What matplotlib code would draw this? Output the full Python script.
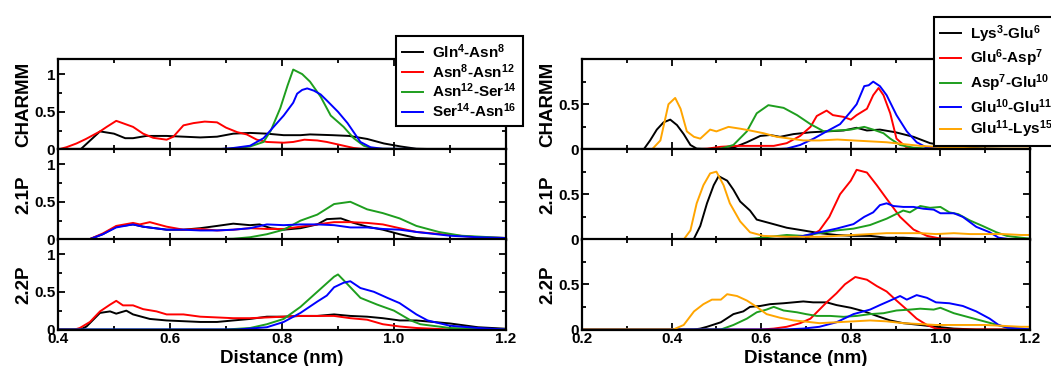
import matplotlib
matplotlib.use("Agg")
import matplotlib.pyplot as plt
from matplotlib.ticker import MultipleLocator, FixedLocator

plt.rcParams['font.family'] = ['Liberation Sans', 'DejaVu Sans']
plt.rcParams['font.weight'] = 'bold'
plt.rcParams['mathtext.fontset'] = 'custom'
plt.rcParams['mathtext.rm'] = 'Liberation Sans:bold'
plt.rcParams['mathtext.it'] = 'Liberation Sans:bold'
plt.rcParams['mathtext.bf'] = 'Liberation Sans:bold'

# ---------------- data ----------------
row_labels = ["CHARMM", "2.1P", "2.2P"]
left_names = [r"Gln$^{4}$-Asn$^{8}$", r"Asn$^{8}$-Asn$^{12}$", r"Asn$^{12}$-Ser$^{14}$", r"Ser$^{14}$-Asn$^{16}$"]
right_names = [r"Lys$^{3}$-Glu$^{6}$", r"Glu$^{6}$-Asp$^{7}$", r"Asp$^{7}$-Glu$^{10}$", r"Glu$^{10}$-Glu$^{11}$", r"Glu$^{11}$-Lys$^{15}$"]
left_colors = ["black", "#ff0000", "#1e9e1e", "#0000ff"]
right_colors = ["black", "#ff0000", "#1e9e1e", "#0000ff", "#ffa500"]

left_xticks = [0.4, 0.6, 0.8, 1.0, 1.2]
left_xticklabels = ["0.4", "0.6", "0.8", "1.0", "1.2"]
right_xticks = [0.2, 0.4, 0.6, 0.8, 1.0, 1.2]
right_xticklabels = ["0.2", "0.4", "0.6", "0.8", "1.0", "1.2"]

# Left, CHARMM
L_ch_gln_x = [0.40,0.44,0.475,0.50,0.52,0.534,0.558,0.594,0.624,0.654,0.684,0.713,0.743,0.773,0.803,0.833,0.85,0.89,0.92,0.952,0.982,1.012,1.04,1.10,1.20]
L_ch_gln_y = [0,0,0.24,0.21,0.15,0.15,0.18,0.18,0.17,0.16,0.17,0.21,0.22,0.21,0.19,0.19,0.20,0.19,0.18,0.14,0.08,0.04,0.01,0,0]
L_ch_asn8_x = [0.40,0.415,0.433,0.45,0.475,0.487,0.504,0.534,0.552,0.57,0.594,0.606,0.624,0.642,0.662,0.684,0.70,0.72,0.737,0.755,0.773,0.803,0.82,0.84,0.863,0.88,0.91,0.928,0.952,1.20]
L_ch_asn8_y = [0,0.03,0.08,0.14,0.24,0.30,0.38,0.30,0.21,0.155,0.13,0.17,0.32,0.35,0.37,0.36,0.29,0.23,0.20,0.13,0.10,0.09,0.10,0.13,0.12,0.10,0.05,0.02,0,0]
L_ch_asn12_x = [0.40,0.70,0.743,0.767,0.78,0.797,0.81,0.82,0.836,0.85,0.869,0.887,0.91,0.928,0.946,0.964,1.20]
L_ch_asn12_y = [0,0,0.04,0.10,0.25,0.55,0.85,1.06,1.00,0.90,0.70,0.45,0.30,0.15,0.05,0.01,0]
L_ch_ser_x = [0.40,0.68,0.713,0.743,0.767,0.785,0.803,0.82,0.827,0.836,0.845,0.857,0.869,0.88,0.90,0.917,0.94,0.958,0.98,1.20]
L_ch_ser_y = [0,0,0.02,0.05,0.15,0.30,0.45,0.62,0.74,0.79,0.81,0.78,0.73,0.65,0.50,0.35,0.10,0.03,0.01,0]

# Left, 2.1P
L_21_gln_x = [0.40,0.455,0.48,0.504,0.534,0.552,0.594,0.624,0.654,0.684,0.713,0.743,0.76,0.78,0.803,0.833,0.863,0.88,0.905,0.928,0.952,0.98,1.01,1.04,1.10,1.20]
L_21_gln_y = [0,0,0.07,0.17,0.20,0.17,0.13,0.13,0.15,0.18,0.21,0.19,0.20,0.15,0.13,0.15,0.20,0.27,0.28,0.22,0.17,0.13,0.07,0.02,0,0]
L_21_asn8_x = [0.40,0.455,0.48,0.504,0.534,0.546,0.564,0.594,0.624,0.654,0.684,0.713,0.743,0.773,0.803,0.833,0.863,0.893,0.922,0.952,0.98,1.01,1.04,1.10,1.15,1.20]
L_21_asn8_y = [0,0,0.08,0.18,0.22,0.20,0.23,0.17,0.13,0.14,0.12,0.13,0.15,0.14,0.14,0.17,0.20,0.23,0.23,0.22,0.20,0.15,0.10,0.06,0.03,0.02]
L_21_asn12_x = [0.40,0.65,0.713,0.743,0.773,0.803,0.833,0.863,0.893,0.922,0.952,0.98,1.01,1.04,1.08,1.12,1.20]
L_21_asn12_y = [0,0,0.01,0.03,0.07,0.13,0.25,0.33,0.47,0.50,0.40,0.35,0.28,0.18,0.10,0.05,0.02]
L_21_ser_x = [0.40,0.455,0.48,0.504,0.534,0.552,0.594,0.624,0.654,0.684,0.713,0.743,0.773,0.803,0.833,0.863,0.893,0.922,0.952,0.98,1.01,1.04,1.10,1.15,1.20]
L_21_ser_y = [0,0,0.07,0.16,0.20,0.17,0.13,0.13,0.12,0.12,0.13,0.15,0.20,0.19,0.20,0.20,0.19,0.16,0.16,0.14,0.13,0.10,0.05,0.03,0.02]

# Left, 2.2P
L_22_gln_x = [0.40,0.44,0.451,0.475,0.493,0.504,0.522,0.534,0.564,0.594,0.624,0.654,0.684,0.713,0.743,0.773,0.803,0.833,0.863,0.893,0.922,0.952,0.98,1.01,1.04,1.10,1.15,1.20]
L_22_gln_y = [0,0,0.04,0.22,0.24,0.21,0.25,0.20,0.14,0.12,0.11,0.10,0.10,0.12,0.14,0.17,0.17,0.18,0.18,0.20,0.18,0.17,0.15,0.12,0.12,0.08,0.03,0.01]
L_22_asn8_x = [0.40,0.43,0.439,0.457,0.475,0.493,0.504,0.516,0.534,0.552,0.576,0.594,0.624,0.654,0.684,0.713,0.743,0.773,0.803,0.833,0.863,0.893,0.922,0.952,0.98,1.01,1.04,1.10,1.20]
L_22_asn8_y = [0,0,0.02,0.10,0.24,0.33,0.38,0.32,0.32,0.27,0.24,0.20,0.20,0.17,0.16,0.15,0.15,0.16,0.17,0.18,0.18,0.18,0.15,0.13,0.07,0.04,0.02,0,0]
L_22_asn12_x = [0.40,0.70,0.743,0.773,0.803,0.833,0.863,0.893,0.90,0.917,0.94,0.97,1.0,1.03,1.047,1.10,1.20]
L_22_asn12_y = [0,0,0.02,0.07,0.14,0.30,0.50,0.70,0.73,0.60,0.42,0.33,0.25,0.12,0.07,0.02,0]
L_22_ser_x = [0.40,0.72,0.773,0.803,0.833,0.863,0.88,0.893,0.91,0.922,0.94,0.964,0.988,1.01,1.04,1.06,1.10,1.15,1.20]
L_22_ser_y = [0,0,0.03,0.10,0.22,0.37,0.45,0.56,0.62,0.64,0.55,0.50,0.42,0.35,0.20,0.12,0.05,0.02,0]

# Right, CHARMM
R_ch_lys_x = [0.20,0.3375,0.352,0.367,0.382,0.397,0.412,0.427,0.442,0.456,0.51,0.538,0.568,0.598,0.62,0.642,0.672,0.71,0.746,0.784,0.813,0.836,0.865,0.90,0.94,0.977,1.014,1.05,1.10,1.20]
R_ch_lys_y = [0,0,0.10,0.22,0.30,0.33,0.27,0.17,0.05,0.01,0,0.02,0.08,0.15,0.16,0.14,0.17,0.19,0.20,0.21,0.24,0.21,0.22,0.19,0.14,0.07,0.04,0.02,0.01,0]
R_ch_glu6_x = [0.20,0.45,0.48,0.51,0.546,0.583,0.628,0.657,0.687,0.71,0.724,0.746,0.76,0.784,0.80,0.813,0.836,0.85,0.862,0.873,0.888,0.902,0.925,0.955,1.20]
R_ch_glu6_y = [0,0,0.01,0.03,0.04,0.04,0.04,0.07,0.15,0.25,0.37,0.43,0.38,0.36,0.33,0.38,0.45,0.60,0.68,0.60,0.40,0.12,0.02,0,0]
R_ch_asp7_x = [0.20,0.48,0.51,0.538,0.568,0.59,0.616,0.65,0.68,0.71,0.74,0.77,0.80,0.83,0.85,0.873,0.888,0.91,0.94,0.97,1.0,1.20]
R_ch_asp7_y = [0,0,0.01,0.05,0.20,0.40,0.49,0.46,0.38,0.28,0.20,0.21,0.22,0.25,0.22,0.18,0.12,0.05,0.02,0.01,0,0]
R_ch_glu10_x = [0.20,0.62,0.657,0.687,0.717,0.746,0.776,0.80,0.813,0.83,0.84,0.85,0.865,0.88,0.902,0.925,0.947,0.97,1.0,1.20]
R_ch_glu10_y = [0,0,0.01,0.05,0.12,0.20,0.28,0.42,0.50,0.70,0.71,0.75,0.70,0.60,0.38,0.20,0.08,0.02,0.01,0]
R_ch_glu11_x = [0.20,0.356,0.375,0.393,0.408,0.42,0.434,0.45,0.464,0.486,0.50,0.527,0.553,0.575,0.605,0.635,0.665,0.694,0.73,0.77,0.806,0.843,0.88,0.917,0.955,0.99,1.03,1.10,1.20]
R_ch_glu11_y = [0,0,0.10,0.50,0.57,0.45,0.20,0.14,0.12,0.22,0.20,0.25,0.23,0.21,0.18,0.14,0.12,0.10,0.10,0.11,0.10,0.09,0.08,0.06,0.04,0.03,0.02,0.01,0.01]

# Right, 2.1P
R_21_lys_x = [0.20,0.449,0.464,0.479,0.494,0.505,0.524,0.538,0.553,0.575,0.59,0.62,0.657,0.694,0.73,0.768,0.806,0.843,0.88,0.917,0.955,0.99,1.20]
R_21_lys_y = [0,0,0.15,0.40,0.60,0.70,0.65,0.55,0.42,0.32,0.22,0.18,0.13,0.10,0.07,0.05,0.04,0.04,0.02,0.02,0.01,0.01,0]
R_21_glu6_x = [0.20,0.65,0.70,0.73,0.752,0.776,0.80,0.813,0.836,0.858,0.88,0.91,0.94,0.97,1.0,1.20]
R_21_glu6_y = [0,0,0.01,0.10,0.25,0.50,0.65,0.77,0.74,0.60,0.45,0.25,0.11,0.04,0.01,0]
R_21_asp7_x = [0.20,0.55,0.583,0.62,0.657,0.694,0.73,0.768,0.806,0.843,0.88,0.917,0.932,0.955,0.977,1.0,1.02,1.04,1.066,1.094,1.125,1.148,1.18,1.20]
R_21_asp7_y = [0,0,0.01,0.03,0.05,0.04,0.07,0.10,0.12,0.16,0.23,0.32,0.30,0.37,0.35,0.36,0.30,0.28,0.21,0.15,0.08,0.04,0.02,0.01]
R_21_glu10_x = [0.20,0.60,0.657,0.694,0.73,0.768,0.806,0.83,0.85,0.865,0.88,0.895,0.917,0.94,0.962,0.985,1.0,1.03,1.05,1.08,1.11,1.13,1.16,1.20]
R_21_glu10_y = [0,0,0.01,0.04,0.08,0.12,0.17,0.25,0.30,0.38,0.40,0.37,0.36,0.36,0.34,0.33,0.29,0.29,0.25,0.14,0.08,0.02,0,0]
R_21_glu11_x = [0.20,0.427,0.442,0.456,0.471,0.486,0.50,0.516,0.53,0.553,0.575,0.605,0.657,0.694,0.73,0.768,0.806,0.843,0.88,0.917,0.955,0.99,1.03,1.066,1.10,1.14,1.18,1.20]
R_21_glu11_y = [0,0,0.10,0.40,0.60,0.73,0.75,0.60,0.40,0.20,0.08,0.04,0.03,0.03,0.03,0.04,0.05,0.06,0.07,0.07,0.07,0.06,0.07,0.06,0.06,0.06,0.05,0.05]

# Right, 2.2P
R_22_lys_x = [0.20,0.45,0.464,0.479,0.51,0.538,0.56,0.575,0.598,0.62,0.65,0.672,0.694,0.716,0.746,0.768,0.80,0.83,0.858,0.888,0.917,0.955,0.99,1.03,1.08,1.20]
R_22_lys_y = [0,0,0.01,0.03,0.08,0.17,0.20,0.25,0.26,0.28,0.29,0.30,0.31,0.30,0.30,0.27,0.24,0.20,0.15,0.10,0.07,0.05,0.03,0.01,0,0]
R_22_glu6_x = [0.20,0.60,0.628,0.657,0.687,0.71,0.73,0.746,0.768,0.787,0.81,0.836,0.858,0.88,0.902,0.925,0.947,0.97,0.99,1.02,1.20]
R_22_glu6_y = [0,0,0.01,0.03,0.07,0.12,0.22,0.30,0.40,0.50,0.58,0.55,0.48,0.42,0.32,0.22,0.12,0.05,0.01,0,0]
R_22_asp7_x = [0.20,0.51,0.538,0.568,0.59,0.612,0.628,0.65,0.68,0.70,0.724,0.754,0.784,0.813,0.843,0.873,0.902,0.932,0.955,0.985,1.0,1.03,1.06,1.09,1.12,1.15,1.18,1.20]
R_22_asp7_y = [0,0,0.05,0.12,0.19,0.22,0.25,0.21,0.19,0.17,0.15,0.15,0.14,0.15,0.17,0.18,0.21,0.22,0.23,0.22,0.24,0.18,0.14,0.10,0.06,0.02,0.01,0]
R_22_glu10_x = [0.20,0.65,0.694,0.73,0.768,0.806,0.843,0.865,0.888,0.91,0.925,0.947,0.97,0.99,1.02,1.05,1.08,1.11,1.13,1.15,1.18,1.20]
R_22_glu10_y = [0,0,0.01,0.03,0.08,0.17,0.22,0.27,0.32,0.37,0.33,0.38,0.35,0.30,0.29,0.26,0.20,0.12,0.05,0.02,0.01,0]
R_22_glu11_x = [0.20,0.404,0.427,0.45,0.471,0.49,0.51,0.524,0.546,0.568,0.59,0.612,0.642,0.672,0.694,0.73,0.768,0.806,0.843,0.88,0.917,0.955,0.99,1.03,1.066,1.10,1.14,1.18,1.20]
R_22_glu11_y = [0,0,0.05,0.20,0.28,0.33,0.33,0.39,0.37,0.32,0.25,0.17,0.13,0.10,0.09,0.07,0.08,0.09,0.10,0.09,0.07,0.06,0.05,0.05,0.05,0.05,0.04,0.03,0.03]

left_rows = [
    [(L_ch_gln_x, L_ch_gln_y), (L_ch_asn8_x, L_ch_asn8_y), (L_ch_asn12_x, L_ch_asn12_y), (L_ch_ser_x, L_ch_ser_y)],
    [(L_21_gln_x, L_21_gln_y), (L_21_asn8_x, L_21_asn8_y), (L_21_asn12_x, L_21_asn12_y), (L_21_ser_x, L_21_ser_y)],
    [(L_22_gln_x, L_22_gln_y), (L_22_asn8_x, L_22_asn8_y), (L_22_asn12_x, L_22_asn12_y), (L_22_ser_x, L_22_ser_y)],
]
right_rows = [
    [(R_ch_lys_x, R_ch_lys_y), (R_ch_glu6_x, R_ch_glu6_y), (R_ch_asp7_x, R_ch_asp7_y), (R_ch_glu10_x, R_ch_glu10_y), (R_ch_glu11_x, R_ch_glu11_y)],
    [(R_21_lys_x, R_21_lys_y), (R_21_glu6_x, R_21_glu6_y), (R_21_asp7_x, R_21_asp7_y), (R_21_glu10_x, R_21_glu10_y), (R_21_glu11_x, R_21_glu11_y)],
    [(R_22_lys_x, R_22_lys_y), (R_22_glu6_x, R_22_glu6_y), (R_22_asp7_x, R_22_asp7_y), (R_22_glu10_x, R_22_glu10_y), (R_22_glu11_x, R_22_glu11_y)],
]

# ---------------- figure ----------------
W, H = 1051, 366
fig = plt.figure(figsize=(W / 100, H / 100), dpi=100)

row_tops = [59, 149, 239]
row_h = 90.5


def style_axis(ax, xlim, xticks, xticklabels, ylim, yticks, show_x):
    ax.set_xlim(*xlim)
    ax.set_ylim(*ylim)
    ax.set_xticks(xticks)
    ax.xaxis.set_minor_locator(MultipleLocator(0.1))
    ax.set_yticks(yticks)
    ax.set_yticklabels([("%g" % v) for v in yticks])
    ax.yaxis.set_minor_locator(FixedLocator([0.25, 0.75]))
    ax.tick_params(which='both', direction='in', top=True, right=True, width=1.3, labelsize=11, pad=2)
    ax.tick_params(which='major', length=5)
    ax.tick_params(which='minor', length=3)
    if show_x:
        ax.set_xticklabels(xticklabels)
    else:
        ax.set_xticklabels([])
    for s in ax.spines.values():
        s.set_linewidth(1.6)
    for lab in ax.get_xticklabels() + ax.get_yticklabels():
        lab.set_fontweight('bold')


def make_panel(x0, x1, rows, colors, names, xlim, xticks, xticklabels, ylim, yticks):
    axes = []
    for i, series in enumerate(rows):
        top = row_tops[i]
        ax = fig.add_axes([x0 / W, 1 - (top + row_h) / H, (x1 - x0) / W, row_h / H])
        for (xs, ys), c, n in zip(series, colors, names):
            ax.plot(xs, ys, color=c, lw=1.4, label=n)
        style_axis(ax, xlim, xticks, xticklabels, ylim, yticks, i == 2)
        ax.set_ylabel(row_labels[i], fontsize=13.5, fontweight='bold', labelpad=1)
        axes.append(ax)
    axes[-1].set_xlabel("Distance (nm)", fontsize=13.5, fontweight='bold', labelpad=3)
    return axes


lax = make_panel(58, 506, left_rows, left_colors, left_names, (0.4, 1.2),
                 left_xticks, left_xticklabels, (0, 1.2), [0, 0.5, 1])
rax = make_panel(582, 1030, right_rows, right_colors, right_names, (0.2, 1.2),
                 right_xticks, right_xticklabels, (0, 1.0), [0, 0.5])


def add_legend(ax, x, y, spacing, size):
    leg = ax.legend(loc='upper left', bbox_to_anchor=(x / W, 1 - y / H), bbox_transform=fig.transFigure,
                    borderaxespad=0, frameon=True, fancybox=False, framealpha=1, edgecolor='black',
                    handlelength=1.35, handletextpad=0.6, labelspacing=spacing,
                    borderpad=0.4, prop={'weight': 'bold', 'size': size})
    leg.get_frame().set_linewidth(1.5)
    for l in leg.get_lines():
        l.set_linewidth(1.4)
    leg.set_zorder(10)
    return leg


add_legend(lax[0], 396, 36, 0.08, 11)
add_legend(rax[0], 934, 17, 0.2, 11)

fig.savefig("out.png", dpi=100)
